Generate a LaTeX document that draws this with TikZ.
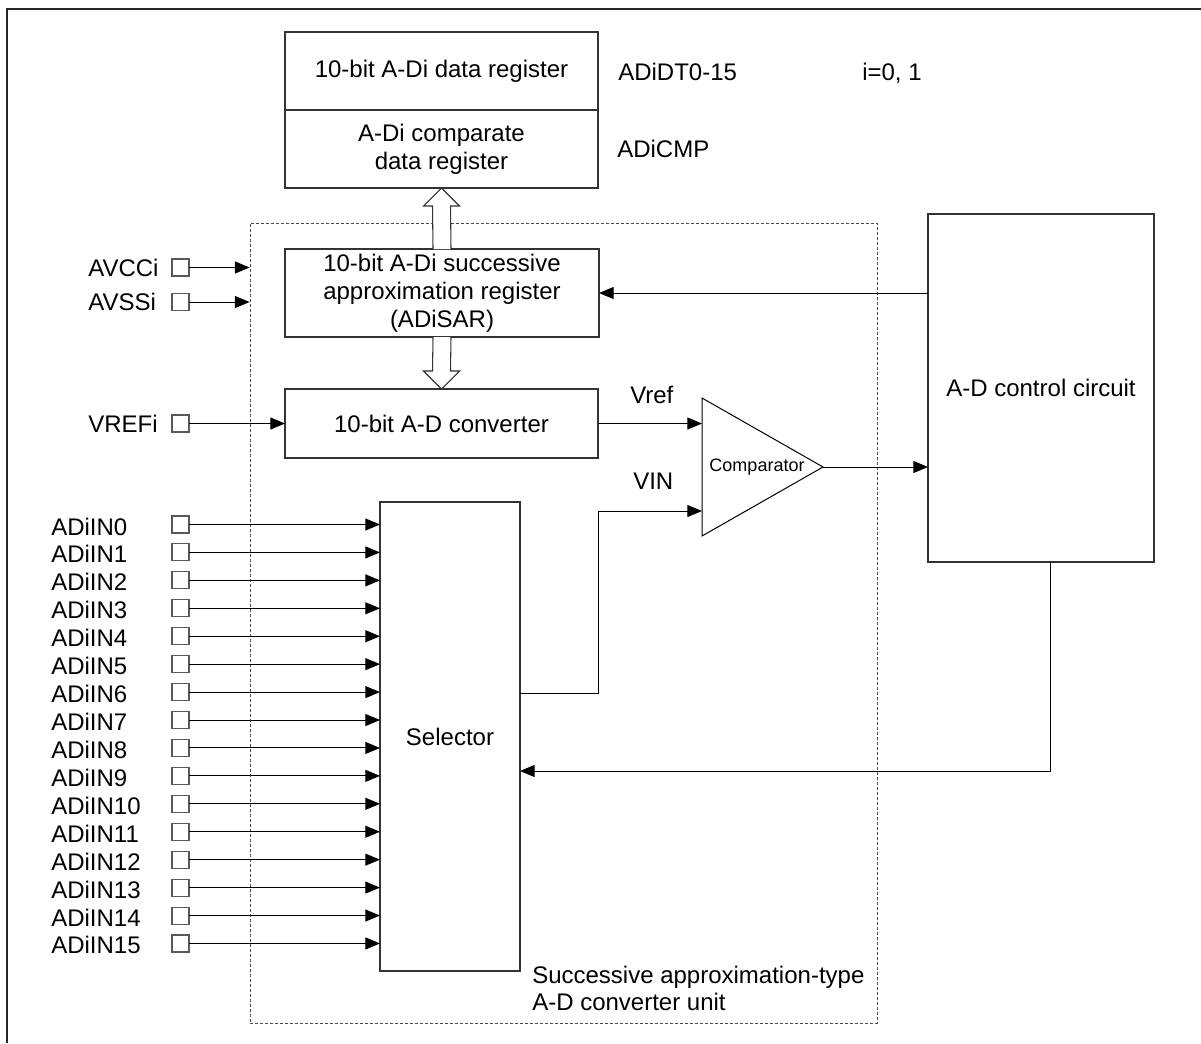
\documentclass[tikz,border=0pt]{standalone}
\usepackage{fontspec}
\setmainfont{Liberation Sans}
\usetikzlibrary{arrows.meta, positioning, calc}

\begin{document}
\begin{tikzpicture}[
    x=0.75pt, y=-0.75pt,
    font=\fontsize{18}{21}\selectfont,
    box/.style={rectangle, draw=black!80, line width=0.8pt, inner sep=0pt, outer sep=0pt, align=center},
    pin/.style={rectangle, draw=black!65, line width=0.8pt, minimum size=12.75pt, inner sep=0pt, outer sep=0pt},
    lbl/.style={anchor=base west, inner sep=0pt},
    arrow/.style={-{Triangle[length=11pt, width=9pt]}, line width=0.75pt},
    hollow/.style={draw=black!80, fill=white, line width=0.8pt},
    unitbox/.style={rectangle, draw=black!70, line width=0.6pt, dash pattern=on 2.25pt off 1.5pt,
                    minimum width=470.25pt, minimum height=600pt},
    node distance=0pt
  ]
    \useasboundingbox (0,0) rectangle (1201,1043);
    \draw[line width=1.5pt, black!85] (7,1043) -- (7,9) -- (1201,9);

    \node[unitbox] (unit) at (563.5,623) {};

    \node[box, minimum width=234.75pt, minimum height=58.5pt] (dreg) at (441.5,71) {10-bit A-Di data register};
    \node[box, minimum width=234.75pt, minimum height=58.5pt, below=of dreg] (creg) {A-Di comparate\\data register};
    \node[box, minimum width=235.5pt, minimum height=66pt] (sar) at (442,293)
         {10-bit A-Di successive\\approximation register\\(ADiSAR)};
    \node[box, minimum width=234.75pt, minimum height=51.75pt] (adc) at (441.5,423.5) {10-bit A-D converter};
    \node[box, minimum width=105pt, minimum height=351.75pt] (sel) at (450,736.5) {Selector};
    \node[box, minimum width=169.5pt, minimum height=261pt] (ctrl) at (1041,388) {A-D control circuit};

    \node[lbl] (dtname) at (618,80) {ADiDT0-15};
    \node[lbl] (idx) at (862,80) {i=0, 1};
    \node[lbl] (cmpname) at (617,157) {ADiCMP};
    \node[lbl] (vreflbl) at (630,403) {Vref};
    \node[lbl] (vinlbl) at (633,489) {VIN};
    \node[lbl] (unitlbl) at (532,983) {Successive approximation-type};
    \node[lbl] (unitlbl2) at (532,1010.7) {A-D converter unit};

    \draw[hollow] ($(sar.north)+(-9,0)$) -- ($(creg.south)+(-9,18)$) -- ++(-9,0) -- (creg.south)
        -- ++(18,18) -- ++(-9,0) -- ($(sar.north)+(9,0)$);
    \draw[hollow] ($(sar.south)+(-9,0)$) -- ($(adc.north)+(-9,-18)$) -- ++(-9,0) -- (adc.north)
        -- ++(18,-18) -- ++(-9,0) -- ($(sar.south)+(9,0)$);

    \node[pin] (avcc) at (180.5,267.5) {};
    \node[lbl] at (88,276) {AVCCi};
    \node[pin] (avss) at (180.5,302) {};
    \node[lbl] at (88,310) {AVSSi};
    \node[pin] (vref) at (180.5,423.5) {};
    \node[lbl] at (88,432) {VREFi};

    \draw[arrow] (avcc.east) -- (avcc.east -| unit.west);
    \draw[arrow] (avss.east) -- (avss.east -| unit.west);
    \draw[arrow] (vref.east) -- (adc.west);

    \foreach \i in {0,...,15} {
        \node[pin] (in\i) at (180.5,{524.5+27.93*\i}) {};
        \node[lbl] at (51,{535+27.93*\i}) {ADiIN\i};
        \draw[arrow] (in\i.east) -- (in\i.east -| sel.west);
    }

    \coordinate (cmpin1) at (702,423.5);
    \coordinate (cmpin2) at (702,511);
    \coordinate (cmpout) at (823,467);
    \draw[line width=0.75pt] (702,398) -- (cmpout) -- (702,536) -- cycle;
    \node[font=\fontsize{13.5}{16}\selectfont] (cmp) at (757,467) {Comparator};

    \coordinate (selout) at (520,693);
    \coordinate (selfb) at (520,771);

    \draw[arrow] (adc.east) -- (cmpin1);
    \draw[arrow] (selout) -- (598,693) |- (cmpin2);
    \draw[arrow] (cmpout) -- (cmpout -| ctrl.west);
    \draw[arrow] (ctrl.west |- sar.east) -- (sar.east);
    \draw[arrow] ($(ctrl.south)+(9,0)$) |- (selfb);
  \end{tikzpicture}
\end{document}
